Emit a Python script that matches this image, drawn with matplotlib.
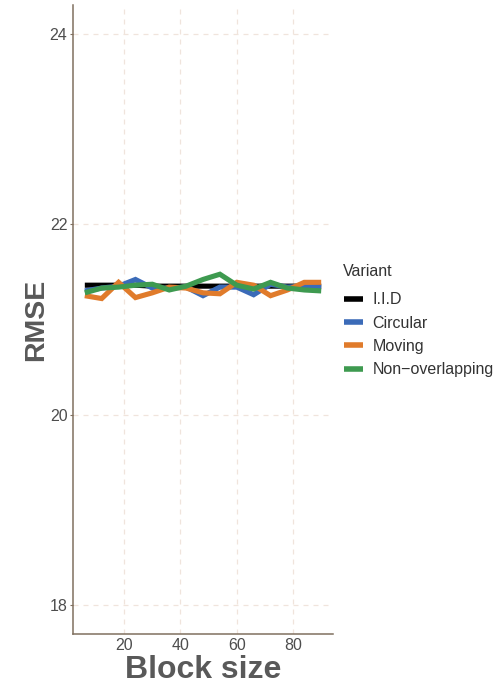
import matplotlib
matplotlib.use("Agg")
import matplotlib.pyplot as plt
from matplotlib.lines import Line2D

plt.rcParams['font.family'] = ['Liberation Sans', 'DejaVu Sans']

block_size = [6, 12, 18, 24, 30, 36, 42, 48, 54, 60, 66, 72, 78, 84, 90]
iid = [21.36, 21.36, 21.36, 21.36, 21.35, 21.35, 21.35, 21.35, 21.35, 21.35, 21.35, 21.35, 21.35, 21.35, 21.35]
circular = [21.30, 21.33, 21.35, 21.42, 21.33, 21.33, 21.34, 21.25, 21.34, 21.34, 21.26, 21.37, 21.34, 21.35, 21.34]
moving = [21.25, 21.22, 21.39, 21.23, 21.28, 21.34, 21.33, 21.28, 21.27, 21.39, 21.36, 21.25, 21.31, 21.39, 21.39]
non_overlapping = [21.28, 21.33, 21.34, 21.36, 21.37, 21.31, 21.35, 21.42, 21.475, 21.36, 21.32, 21.39, 21.33, 21.31, 21.30]

variants = ["I.I.D", "Circular", "Moving", "Non\u2212overlapping"]
series = [iid, circular, moving, non_overlapping]
colors = ["#000000", "#3B6BB8", "#E07B2B", "#3E9A50"]

fig = plt.figure(figsize=(5.01, 6.88), dpi=100)
ax = fig.add_axes([0.1457, 0.0785, 0.519, 0.9142])

for vals, c in zip(series, colors):
    ax.plot(block_size, vals, color=c, lw=3.7, solid_joinstyle='miter', solid_capstyle='butt')

ax.set_xlim(1.8, 94.2)
ax.set_ylim(17.7, 24.3)
ax.set_xticks([20, 40, 60, 80])
ax.set_yticks([18, 20, 22, 24])

ax.grid(True, color="#F0E4DC", linestyle=(0, (4, 4)), linewidth=0.9)
ax.set_axisbelow(True)
for s in ["top", "right"]:
    ax.spines[s].set_visible(False)
for s in ["left", "bottom"]:
    ax.spines[s].set_color("#80705F")
    ax.spines[s].set_linewidth(1.1)

ax.tick_params(axis='both', colors="#80705F", labelcolor="#4D4D4D", labelsize=11.5, length=2.5, width=0.8, pad=1.5)
ax.tick_params(axis='x', length=0, pad=3)

ax.set_xlabel("Block size", fontsize=23, fontweight='bold', color="#595959", labelpad=1)
ax.set_ylabel("RMSE", fontsize=20.5, fontweight='bold', color="#595959", labelpad=0.5)

# Legend title and entries
fig.text(0.6846, 0.6047, "Variant", fontsize=11.5, color="#333333", ha='left', va='center')
handles = [Line2D([0], [0], color=c, lw=4, solid_capstyle='butt') for c in colors]
leg = fig.legend(handles, variants, loc='upper left',
                 bbox_to_anchor=(0.6866, 0.5750), frameon=False, fontsize=11.5,
                 handlelength=1.2, handletextpad=0.6,
                 labelspacing=0.52, borderaxespad=0.0, borderpad=0.0)
for t in leg.get_texts():
    t.set_color("#333333")

fig.savefig("out.png", dpi=100)
